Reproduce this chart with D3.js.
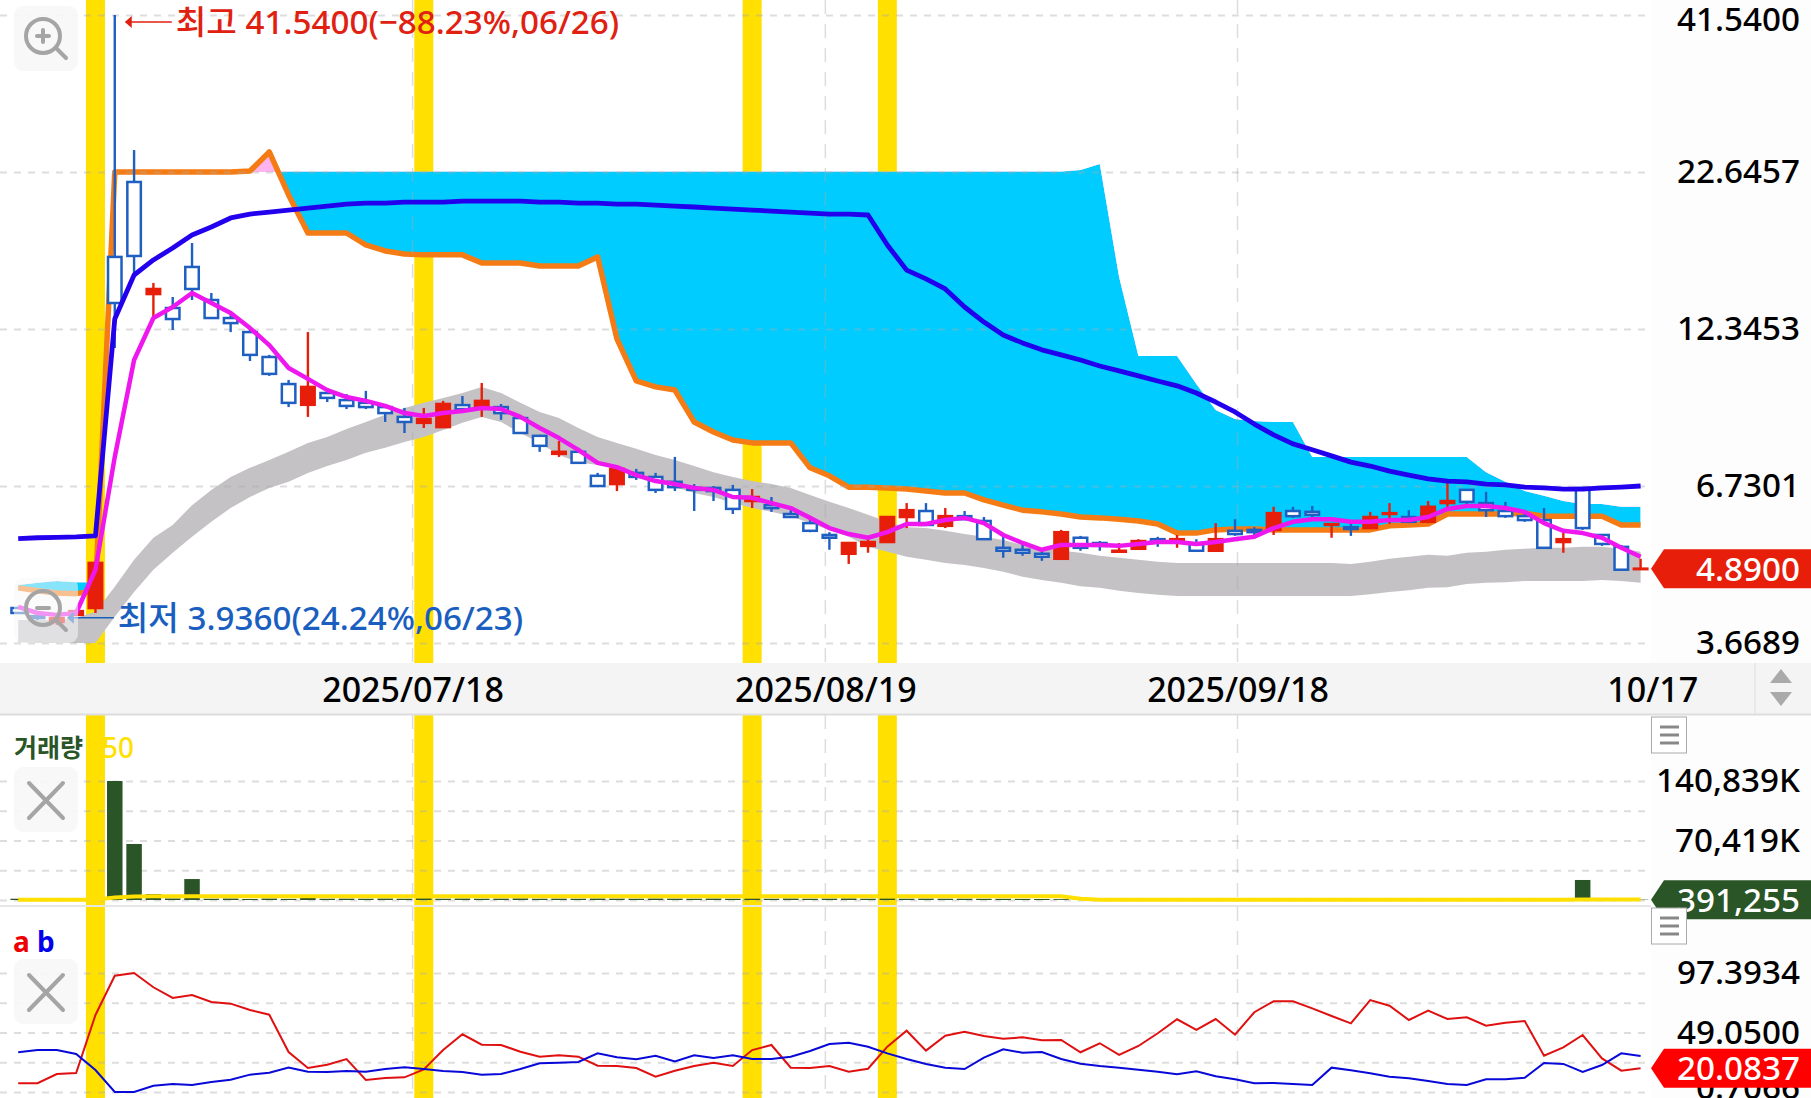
<!DOCTYPE html>
<html>
<head>
<meta charset="utf-8">
<script src="https://cdn.jsdelivr.net/npm/d3@7"></script>
<style>
  html, body { margin: 0; padding: 0; background: #fff; overflow: hidden; }
  svg { display: block; font-family: "Noto Sans", "Noto Sans CJK KR", sans-serif; font-weight: 500; }
</style>
</head>
<body>
<div id="chart"></div>
<script>
// candles, one per session
const opens = [4.20,4.07,3.98,4.09,4.20,16.31,21.79,14.13,13.39,15.69,13.81,12.88,12.20,11.08,9.98,9.21,9.64,9.38,9.28,9.13,8.79,8.59,8.45,9.20,9.10,9.13,8.75,8.17,7.62,7.68,7.00,6.78,7.08,6.97,6.84,6.68,6.68,6.63,6.35,6.25,6.04,5.83,5.57,5.18,5.34,5.42,5.97,6.11,5.77,5.99,5.88,5.30,5.26,5.18,5.08,5.51,5.40,5.22,5.28,5.48,5.42,5.38,5.24,5.66,5.68,5.68,6.11,6.09,5.79,5.74,5.72,6.04,5.97,5.86,6.30,6.63,6.30,6.11,5.99,5.90,5.42,6.68,5.57,5.32,4.88];
const highs = [4.22,4.09,4.09,4.17,5.02,41.54,24.65,14.75,13.97,17.21,14.19,13.03,12.39,11.17,10.14,12.20,9.83,9.60,9.72,9.20,9.10,9.10,9.35,9.53,10.02,9.24,8.79,8.20,8.01,7.80,7.08,7.22,7.19,7.08,7.53,6.78,6.73,6.76,6.65,6.45,6.13,5.95,5.63,5.42,5.48,5.99,6.30,6.30,6.18,6.11,5.97,5.57,5.36,5.22,5.68,5.55,5.44,5.40,5.48,5.53,5.57,5.48,5.83,5.92,5.74,6.21,6.21,6.23,5.83,5.83,6.09,6.30,6.13,6.35,6.81,6.65,6.58,6.33,6.09,6.18,5.63,6.70,5.59,5.36,5.08];
const lows = [4.11,4.01,3.936,4.07,4.12,11.47,15.21,12.88,12.30,13.81,12.83,12.20,10.91,10.30,9.13,8.79,9.31,9.06,9.06,8.62,8.26,8.42,8.42,8.96,8.79,8.69,8.23,7.68,7.53,7.33,6.70,6.60,6.89,6.55,6.60,6.11,6.35,6.04,6.18,6.09,5.95,5.63,5.26,4.98,5.20,5.42,5.72,5.77,5.72,5.90,5.48,5.10,5.14,5.04,5.08,5.24,5.24,5.21,5.26,5.32,5.30,5.22,5.24,5.55,5.55,5.57,5.95,5.95,5.51,5.55,5.70,5.81,5.83,5.83,6.16,6.21,5.97,5.95,5.86,5.30,5.20,5.68,5.34,4.87,4.88];
const closes = [4.12,4.04,4.04,4.15,5.00,13.65,16.37,14.41,12.83,14.41,12.88,12.63,11.17,10.38,9.28,9.87,9.46,9.17,9.13,8.92,8.62,8.72,9.24,9.06,9.35,8.92,8.26,7.86,7.68,7.36,6.73,7.19,6.97,6.63,6.70,6.63,6.60,6.16,6.45,6.18,5.97,5.66,5.51,5.40,5.42,5.97,6.13,5.79,5.99,5.92,5.48,5.24,5.20,5.12,5.63,5.30,5.34,5.24,5.44,5.42,5.48,5.24,5.48,5.59,5.63,6.06,5.99,6.02,5.81,5.70,5.97,6.06,5.86,6.21,6.35,6.33,6.13,5.99,5.90,5.30,5.48,5.72,5.38,4.87,4.89];

// moving average lines and bands on the price panel
const ma5 = [4.22,4.12,4.09,4.12,4.87,7.53,10.95,12.88,13.44,14.19,13.65,13.13,12.39,11.60,10.62,10.18,9.75,9.49,9.35,9.17,8.92,8.82,8.92,8.99,9.10,9.06,8.79,8.42,8.10,7.74,7.36,7.24,7.02,6.86,6.78,6.68,6.63,6.45,6.43,6.30,6.18,5.95,5.72,5.59,5.51,5.63,5.81,5.81,5.90,5.95,5.83,5.57,5.40,5.26,5.36,5.36,5.36,5.34,5.38,5.42,5.42,5.38,5.42,5.48,5.53,5.72,5.86,5.92,5.92,5.86,5.86,5.90,5.90,5.97,6.16,6.23,6.23,6.18,6.09,5.83,5.66,5.61,5.51,5.30,5.12];
const bandTop = [4.01,4.01,4.01,4.04,4.14,4.56,5.06,5.51,5.79,6.25,6.63,6.97,7.22,7.44,7.68,7.95,8.13,8.39,8.62,8.86,9.10,9.28,9.46,9.64,9.87,9.64,9.28,8.96,8.75,8.42,8.13,7.95,7.77,7.59,7.44,7.27,7.10,6.97,6.86,6.78,6.68,6.50,6.33,6.18,6.02,5.86,5.74,5.72,5.66,5.59,5.53,5.46,5.36,5.30,5.24,5.20,5.14,5.10,5.06,5.02,5.00,5.00,5.00,5.00,5.00,5.00,5.00,5.00,5.00,4.98,5.02,5.08,5.12,5.16,5.14,5.20,5.22,5.26,5.28,5.30,5.30,5.32,5.32,5.28,5.22];
const bandBottom = [3.68,3.67,3.67,3.67,3.67,4.06,4.47,4.87,5.20,5.53,5.86,6.18,6.45,6.68,6.84,7.08,7.27,7.44,7.65,7.80,7.98,8.13,8.36,8.59,8.79,8.62,8.26,7.95,7.59,7.38,7.30,7.22,7.02,6.84,6.70,6.55,6.45,6.30,6.18,6.09,5.99,5.83,5.68,5.53,5.32,5.22,5.12,5.06,5.00,4.96,4.90,4.83,4.74,4.68,4.63,4.57,4.54,4.49,4.45,4.42,4.40,4.40,4.40,4.40,4.40,4.40,4.40,4.40,4.40,4.40,4.43,4.47,4.50,4.54,4.55,4.61,4.63,4.64,4.66,4.66,4.66,4.66,4.68,4.66,4.63];
const spanA = [4.59,4.63,4.66,4.64,4.64,22.65,22.65,22.65,22.65,22.65,22.65,22.65,22.65,22.65,22.70,22.70,22.70,22.70,22.70,22.70,22.70,22.70,22.70,22.70,22.70,22.70,22.70,22.70,22.70,22.70,22.70,22.70,22.70,22.70,22.70,22.70,22.70,22.70,22.70,22.70,22.70,22.70,22.70,22.70,22.70,22.70,22.70,22.70,22.70,22.70,22.70,22.70,22.70,22.70,22.70,22.82,23.36,15.09,11.12,11.12,11.12,9.98,9.03,8.72,8.65,8.62,8.62,7.53,7.53,7.53,7.53,7.53,7.53,7.53,7.53,7.53,7.10,6.84,6.60,6.48,6.35,6.28,6.28,6.21,6.21];
const spanB = [4.54,4.49,4.45,4.44,4.49,22.65,22.65,22.65,22.65,22.65,22.65,22.65,22.73,24.47,20.72,17.89,17.89,17.89,17.08,16.69,16.50,16.44,16.44,16.44,15.93,15.93,15.93,15.75,15.75,15.75,16.31,11.88,10.10,9.87,9.75,8.62,8.29,8.04,7.95,7.95,7.95,7.22,7.00,6.70,6.70,6.68,6.65,6.60,6.55,6.55,6.38,6.25,6.13,6.09,6.04,5.97,5.95,5.92,5.88,5.81,5.61,5.61,5.68,5.70,5.70,5.68,5.68,5.68,5.68,5.68,5.68,5.77,5.79,5.81,6.04,6.04,6.04,6.04,6.06,5.99,5.99,5.99,5.99,5.79,5.79];
const trendLine = [5.49,5.51,5.52,5.53,5.55,12.83,15.21,16.12,16.88,17.75,18.31,18.96,19.25,19.40,19.55,19.70,19.85,20.00,20.08,20.08,20.16,20.16,20.16,20.24,20.24,20.24,20.24,20.16,20.16,20.08,20.08,20.00,20.00,19.93,19.85,19.78,19.70,19.62,19.55,19.47,19.40,19.32,19.25,19.25,19.18,17.08,15.50,14.98,14.41,13.44,12.68,12.06,11.70,11.39,11.17,10.95,10.70,10.50,10.30,10.10,9.91,9.64,9.31,8.96,8.55,8.20,7.92,7.74,7.56,7.38,7.27,7.13,7.02,6.92,6.86,6.84,6.78,6.76,6.70,6.68,6.65,6.65,6.68,6.70,6.73];

// volume in thousands
const volume = [1500,1500,1200,1200,1200,140839,66300,7100,1800,24800,1500,1700,1200,1700,1300,3100,1500,1600,1500,1700,1500,1800,1500,1700,1500,1600,1800,1500,1600,1500,1700,1600,1500,1700,1600,1500,1700,1500,1600,1500,1700,1500,1600,1800,1500,1700,1500,1600,1500,1500,1400,1400,1300,1200,1000,800,500,400,300,300,300,300,300,300,300,400,300,400,300,300,300,400,300,300,500,500,300,300,300,500,400,23700,700,500,391];
const volumeMa = [300,300,300,300,300,2900,4200,4400,4400,4400,4400,4400,4400,4400,4400,4500,4500,4500,4500,4500,4500,4500,4500,4500,4500,4500,4500,4500,4500,4500,4500,4500,4500,4500,4500,4500,4500,4500,4500,4500,4500,4500,4500,4500,4500,4500,4500,4500,4500,4500,4500,4500,4500,4400,4400,1600,300,250,250,250,250,250,250,250,250,250,250,250,250,250,250,250,250,250,250,250,250,250,250,250,250,700,700,700,700];

// lower panel lines
const lineA = [7.8,7.8,15.3,16.1,63.3,95.2,97.4,85.8,77.1,79.5,73.8,72.5,67.3,63.5,33.2,20.2,22.9,27.5,10.5,12.1,12.6,19.1,34.8,47.6,39.1,38.9,33.4,29.4,30.5,29.4,22.1,21.8,20.2,13.1,18,21.8,24.5,21.8,34.8,38.9,20.5,20.2,21.8,17.2,19.6,37.5,50.5,34.3,46.4,49.7,46.2,44,45.1,42.7,43,33,40.3,30.8,38.1,48.4,59.8,51.1,60,47.3,65.5,74.4,74.4,68.7,62.5,56.5,75.4,70.8,59.2,66.8,60,61.4,54.6,57,58.4,30.2,37,47,28,18,20.08];
const lineB = [33,34.8,34.8,31.6,18.6,0.7,0.7,5.8,7.2,6.4,8.8,10.7,14.8,16.4,20.5,17.2,17,17.8,17.2,19.4,20.8,19.4,17.8,17,14.8,15.3,19.4,24,24.5,25.1,32.1,28.9,27.3,30.2,25.6,30.5,28.3,30.5,27.5,27.5,29.4,34,39.7,40.8,37.5,32.1,27.5,23.5,20.5,19.4,28.6,35.4,32.6,33.2,27.5,23.7,21.8,20.5,18.8,17.2,15.1,17.5,13.5,11,7.8,8,7.2,6.4,20.5,18.3,15.9,13.1,11.8,9.6,7.2,6.4,11,11,12.3,24.3,23.5,17,22.6,32.1,30];

// axis values and labels
const priceTicks = [3.6689, 6.7301, 12.3453, 22.6457, 41.54];
const volumeTicks = [0, 35210, 70419, 105629, 140839];
const volumeLabels = [0, 70419, 140839];
const lineTicks = [0.7066, 24.878, 49.05, 73.222, 97.3934];
const lineLabels = [0.7066, 49.05, 97.3934];
const dateIndex = [20.42, 41.79, 63.13, 84.6];
const dateLabels = ["2025/07/18", "2025/08/19", "2025/09/18", "10/17"];
const markedDays = [4, 21, 38, 45];

const lastPrice = 4.89, lastVolume = 391.255, lastLine = 20.0837;
const highDay = 5, lowDay = 2;

const width = 1811, height = 1098, plotRight = 1646, axisEdge = 1651;
const panels = [[0, 663], [715, 906], [907, 1098]];

const svg = d3.select("#chart").append("svg")
  .attr("width", width)
  .attr("height", height);

const x = d3.scaleLinear().domain([0, 84]).range([18.2, 1640.6]);
const y = d3.scaleLog().domain([3.6689, 41.54]).range([643, 15]);
const yVol = d3.scaleLinear().domain([0, 140839]).range([900, 781]);
const yLine = d3.scaleLinear().domain([0.7066, 97.3934]).range([1092, 973]);

const days = d3.range(opens.length);
const gridColor = "rgba(170,170,170,0.4)";

// right side background
svg.append("rect").attr("x", axisEdge).attr("y", 0).attr("width", width - axisEdge).attr("height", height).attr("fill", "#fdfdfd");

// yellow marked days run through all three panels
panels.forEach(([top, bottom]) => {
  svg.append("g").selectAll("rect")
    .data(markedDays)
    .join("rect")
    .attr("x", d => x(d) - 9.5)
    .attr("y", top)
    .attr("width", 19)
    .attr("height", bottom - top)
    .attr("fill", "#ffe000");
});

// gray band
svg.append("path")
  .datum(days)
  .attr("fill", "#c4c2c5")
  .attr("d", d3.area().x(d => x(d)).y0(d => y(bandBottom[d])).y1(d => y(bandTop[d])));

// cloud: cyan where spanB sits under spanA, pink where it pokes above
const defs = svg.append("defs");
defs.append("clipPath").attr("id", "belowA").append("path")
  .datum(days)
  .attr("d", d3.area().x(d => x(d)).y0(663).y1(d => y(spanA[d])));
defs.append("clipPath").attr("id", "aboveA").append("path")
  .datum(days)
  .attr("d", d3.area().x(d => x(d)).y0(0).y1(d => y(spanA[d])));

const cloud = d3.area().x(d => x(d)).y0(d => y(spanB[d])).y1(d => y(spanA[d]));
svg.append("path").datum(days).attr("fill", "#00ccff").attr("clip-path", "url(#belowA)").attr("d", cloud);
svg.append("path").datum(days).attr("fill", "#ffb4f0").attr("clip-path", "url(#aboveA)").attr("d", cloud);

const priceLine = arr => d3.line().x(d => x(d)).y(d => y(arr[d]));

svg.append("path").datum(days)
  .attr("fill", "none").attr("stroke", "#f57c14").attr("stroke-width", 5.5)
  .attr("stroke-linejoin", "round")
  .attr("d", priceLine(spanB));

// horizontal grids
[[y, priceTicks], [yVol, volumeTicks], [yLine, lineTicks]].forEach(([scale, ticks]) => {
  svg.append("g")
    .call(d3.axisRight(scale).tickValues(ticks).tickSize(plotRight).tickFormat(""))
    .call(g => g.select(".domain").remove())
    .call(g => g.selectAll("line").attr("stroke", gridColor).attr("stroke-width", 2).attr("stroke-dasharray", "7 7"));
});

// vertical date grid
panels.forEach(([top, bottom]) => {
  svg.append("g").selectAll("line")
    .data(dateIndex.slice(0, 3))
    .join("line")
    .attr("x1", d => x(d)).attr("x2", d => x(d))
    .attr("y1", top).attr("y2", bottom)
    .attr("stroke", gridColor).attr("stroke-width", 1.5).attr("stroke-dasharray", "14 10");
});

// candles
const isUp = d => closes[d] >= opens[d];
const candleColor = d => isUp(d) ? "#e61e0a" : "#1f5fc1";

svg.append("g").selectAll("line")
  .data(days)
  .join("line")
  .attr("x1", d => x(d)).attr("x2", d => x(d))
  .attr("y1", d => y(highs[d])).attr("y2", d => y(lows[d]))
  .attr("stroke", candleColor).attr("stroke-width", 2.4);

svg.append("g").selectAll("rect")
  .data(days)
  .join("rect")
  .attr("x", d => x(d) - 6.75)
  .attr("width", 13.5)
  .attr("y", d => y(Math.max(opens[d], closes[d])))
  .attr("height", d => Math.abs(y(opens[d]) - y(closes[d])))
  .attr("fill", d => isUp(d) ? "#e61e0a" : "#fff")
  .attr("stroke", candleColor)
  .attr("stroke-width", 2.5);

svg.append("path").datum(days)
  .attr("fill", "none").attr("stroke", "#ee18ee").attr("stroke-width", 4.5)
  .attr("stroke-linejoin", "round")
  .attr("d", priceLine(ma5));

svg.append("path").datum(days)
  .attr("fill", "none").attr("stroke", "#2200ee").attr("stroke-width", 4.8)
  .attr("stroke-linejoin", "round")
  .attr("d", priceLine(trendLine));

// high and low notes
function note(day, value, dy, color, label) {
  const ax = x(day) + 10, ay = y(value) + dy;
  svg.append("line").attr("x1", ax + 5).attr("x2", ax + 47).attr("y1", ay).attr("y2", ay)
    .attr("stroke", color).attr("stroke-width", 1.5);
  svg.append("path")
    .attr("d", `M${ax},${ay}L${ax + 7},${ay - 6}L${ax + 7},${ay + 6}Z`)
    .attr("fill", color);
  svg.append("text")
    .attr("x", ax + 51).attr("y", ay).attr("dy", "0.36em")
    .attr("font-size", 33.2).attr("fill", color)
    .text(label);
}
note(highDay, d3.max(highs), 7, "#e02010", "최고 41.5400(−88.23%,06/26)");
note(lowDay, d3.min(lows), -7, "#1a5fc0", "최저 3.9360(24.24%,06/23)");

// date strip
svg.append("rect").attr("x", 0).attr("y", 663).attr("width", width).attr("height", 51).attr("fill", "#f4f4f4");
svg.append("line").attr("x1", 0).attr("x2", width).attr("y1", 714.5).attr("y2", 714.5).attr("stroke", "#dddddd").attr("stroke-width", 2);
svg.append("line").attr("x1", 1755).attr("x2", 1755).attr("y1", 663).attr("y2", 713).attr("stroke", "#dddddd").attr("stroke-width", 1);
svg.append("path").attr("d", "M1781,669L1792,683L1770,683Z").attr("fill", "#aaaaaa");
svg.append("path").attr("d", "M1770,692L1792,692L1781,706Z").attr("fill", "#aaaaaa");

svg.append("g")
  .attr("transform", "translate(0,690)")
  .call(d3.axisBottom(x).tickValues(dateIndex).tickSize(0).tickPadding(0).tickFormat((d, i) => dateLabels[i]))
  .attr("font-family", null)
  .call(g => g.select(".domain").remove())
  .call(g => g.selectAll("text").attr("font-size", 34).attr("fill", "#000").attr("dy", "0.36em"));

// volume panel
svg.append("g").selectAll("rect")
  .data(days)
  .join("rect")
  .attr("x", d => x(d) - 7.75)
  .attr("width", 15.5)
  .attr("y", d => yVol(volume[d]))
  .attr("height", d => yVol(0) - yVol(volume[d]))
  .attr("fill", "#2a5526");

svg.append("path").datum(days)
  .attr("fill", "none").attr("stroke", "#ffe000").attr("stroke-width", 4)
  .attr("d", d3.line().x(d => x(d)).y(d => yVol(volumeMa[d])));

svg.append("line").attr("x1", 0).attr("x2", axisEdge).attr("y1", 906).attr("y2", 906).attr("stroke", "#e6e6e6").attr("stroke-width", 2);

// lower panel
svg.append("path").datum(days)
  .attr("fill", "none").attr("stroke", "#e01010").attr("stroke-width", 2)
  .attr("d", d3.line().x(d => x(d)).y(d => yLine(lineA[d])));
svg.append("path").datum(days)
  .attr("fill", "none").attr("stroke", "#0808d8").attr("stroke-width", 2)
  .attr("d", d3.line().x(d => x(d)).y(d => yLine(lineB[d])));

// right axes
function rightAxis(scale, ticks, fmt) {
  return svg.append("g")
    .attr("transform", "translate(1800,0)")
    .call(d3.axisLeft(scale).tickValues(ticks).tickSize(0).tickPadding(0).tickFormat(fmt))
    .attr("font-family", null)
    .call(g => g.select(".domain").remove())
    .call(g => g.selectAll("text").attr("font-size", 33.2).attr("fill", "#000"));
}
const priceAxis = rightAxis(y, priceTicks, d3.format(".4f"));
priceAxis.selectAll("text").filter(d => d === 41.54).attr("dy", "0.48em");
rightAxis(yVol, volumeLabels, d => d ? d3.format(",")(d) + "K" : "0");
const lineAxis = rightAxis(yLine, lineLabels, d3.format(".4f"));
lineAxis.selectAll("text").filter(d => d === 0.7066).attr("dy", "0.2em");

// last value tags
function tag(cy, color, label) {
  svg.append("path")
    .attr("d", `M1651,${cy}L1664,${cy - 19.5}L${width},${cy - 19.5}L${width},${cy + 19.5}L1664,${cy + 19.5}Z`)
    .attr("fill", color);
  svg.append("text")
    .attr("x", 1800).attr("y", cy).attr("dy", "0.36em")
    .attr("text-anchor", "end")
    .attr("font-size", 33.2).attr("fill", "#fff")
    .text(label);
}
tag(y(lastPrice), "#e61e0a", d3.format(".4f")(lastPrice));
tag(yVol(lastVolume), "#2a5526", "391,255");
tag(yLine(lastLine), "#ff0000", d3.format(".4f")(lastLine));

// panel legends
svg.append("text").attr("x", 14).attr("y", 748).attr("dy", "0.36em").attr("font-size", 25).attr("font-weight", 700)
  .attr("fill", "#2a5526").text("거래량");
svg.append("text").attr("x", 102).attr("y", 748).attr("dy", "0.36em").attr("font-size", 28)
  .attr("fill", "#ffe000").text("50");
svg.append("text").attr("x", 13).attr("y", 942).attr("dy", "0.36em").attr("font-size", 28).attr("font-weight", 700)
  .attr("fill", "#ee0000").text("a");
svg.append("text").attr("x", 37).attr("y", 942).attr("dy", "0.36em").attr("font-size", 28).attr("font-weight", 700)
  .attr("fill", "#0000ee").text("b");

// buttons
function button(top, opacity) {
  svg.append("rect").attr("x", 14).attr("y", top).attr("width", 64).attr("height", 65).attr("rx", 9)
    .attr("fill", "#f7f7f7").attr("fill-opacity", opacity);
}
function magnifier(top, plus) {
  const cx = 43, cy = top + 30;
  const g = svg.append("g").attr("stroke", "#a5a5a5").attr("fill", "none").attr("stroke-linecap", "round");
  g.append("circle").attr("cx", cx).attr("cy", cy).attr("r", 17).attr("stroke-width", 4);
  g.append("line").attr("x1", cx + 14).attr("y1", cy + 13).attr("x2", cx + 23).attr("y2", cy + 22).attr("stroke-width", 4);
  g.append("line").attr("x1", cx - 6).attr("y1", cy).attr("x2", cx + 6).attr("y2", cy).attr("stroke-width", 4);
  if (plus) g.append("line").attr("x1", cx).attr("y1", cy - 6).attr("x2", cx).attr("y2", cy + 6).attr("stroke-width", 4);
}
function closer(top) {
  const g = svg.append("g").attr("stroke", "#a5a5a5").attr("stroke-width", 4).attr("stroke-linecap", "round");
  g.append("line").attr("x1", 29).attr("y1", top + 16).attr("x2", 63).attr("y2", top + 51);
  g.append("line").attr("x1", 63).attr("y1", top + 16).attr("x2", 29).attr("y2", top + 51);
}
function menu(top) {
  svg.append("rect").attr("x", 1651.5).attr("y", top).attr("width", 35).attr("height", 36).attr("fill", "#fff").attr("stroke", "#aaaaaa");
  svg.append("g").selectAll("line").data([10, 18, 26]).join("line")
    .attr("x1", 1660).attr("x2", 1679)
    .attr("y1", d => top + d).attr("y2", d => top + d)
    .attr("stroke", "#888888").attr("stroke-width", 3);
}
button(6, 0.9); magnifier(6, true);
button(578, 0.55); magnifier(578, false);
button(767, 0.9); closer(767);
button(959, 0.9); closer(959);
menu(717);
menu(908);
</script>
</body>
</html>
